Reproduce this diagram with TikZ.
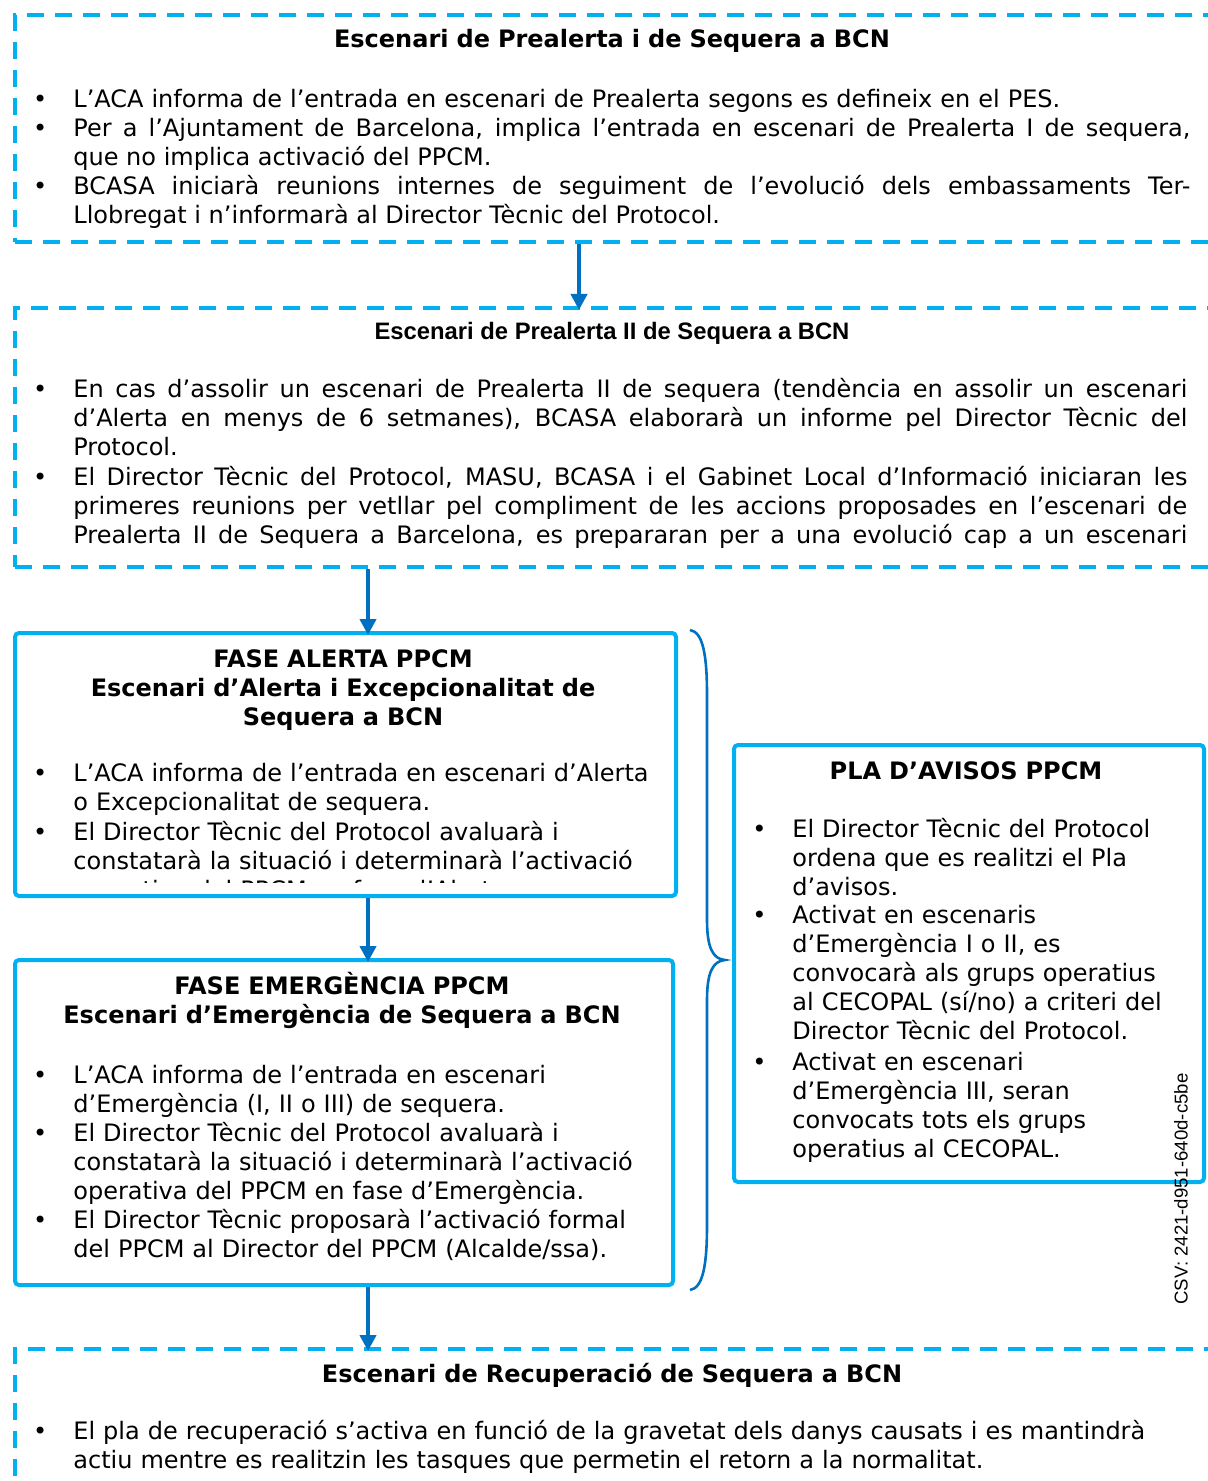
\documentclass[tikz,border=0pt]{standalone}
\usepackage{fontspec}
\setmainfont{DejaVu Sans}
\newfontfamily\arialfont{Liberation Sans}
\usetikzlibrary{arrows.meta}
\definecolor{cyanb}{HTML}{00B0F0}
\definecolor{darkb}{HTML}{0070C0}
\newcommand\bodysize{\fontsize{12}{14.5}\selectfont}
\newcommand\bul{\llap{\textbullet\hspace{13pt}}}
\begin{document}
\begin{tikzpicture}[x=0.5pt,y=-0.5pt,
 dbox/.style={draw=cyanb,line width=2pt,dash pattern=on 8.5pt off 5.5pt,anchor=north west,inner sep=0pt},
 sbox/.style={draw=cyanb,line width=2pt,rounded corners=2pt,anchor=north west,inner sep=0pt},
 txt/.style={anchor=base west,inner sep=0pt,text width=#1,align=left,font=\bodysize},
 jtxt/.style={anchor=base west,inner sep=0pt,text width=#1,align=justify,font=\bodysize},
 ttl/.style={anchor=base,inner sep=0pt,text width=#1,align=center,font=\bodysize\bfseries},
 arr/.style={draw=darkb,line width=2.2pt,-{Triangle[width=8pt,length=8pt]},shorten >=-2pt},
 brace/.style={draw=darkb,line width=1.3pt}
]
\useasboundingbox (0,0) rectangle (1207,1481);

% boxes
\node[dbox,minimum width=608.5pt,minimum height=113.5pt] (b1) at (13,13) {};
\node[dbox,minimum width=608.5pt,minimum height=129.5pt] (b2) at (13,306) {};
\node[sbox,minimum width=330.5pt,minimum height=131.5pt] (alerta) at (13,631) {};
\node[sbox,minimum width=329pt,minimum height=162.5pt] (emerg) at (13,958) {};
\node[sbox,minimum width=235pt,minimum height=218.5pt] (pla) at (732,743) {};
\node[dbox,minimum width=608.5pt,minimum height=100pt] (b3) at (13,1347) {};

% box 1
\node[ttl=560pt] (t1) at (612,48) {Escenari de Prealerta i de Sequera a BCN};
\node[txt=558.5pt] (p11) at (73,108) {\bul L’ACA informa de l’entrada en escenari de Prealerta segons es defineix en el PES.};
\node[jtxt=558.5pt] (p12) at (73,137) {\bul Per a l’Ajuntament de Barcelona, implica l’entrada en escenari de Prealerta I de sequera,\linebreak que no implica activació del PPCM.};
\node[jtxt=558.5pt] (p13) at (73,195) {\bul BCASA iniciarà reunions internes de seguiment de l’evolució dels embassaments Ter-\linebreak Llobregat i n’informarà al Director Tècnic del Protocol.};

% box 2
\node[anchor=base,inner sep=0pt,font=\arialfont\bfseries\fontsize{11.9}{14}\selectfont] (t2) at (612,340) {Escenari de Prealerta II de Sequera a BCN};
\node[jtxt=557pt] (p21) at (73,397) {\bul En cas d’assolir un escenari de Prealerta II de sequera (tendència en assolir un escenari\linebreak d’Alerta en menys de 6 setmanes), BCASA elaborarà un informe pel Director Tècnic del\linebreak Protocol.};
\node[jtxt=557pt] (p22) at (73,485) {\bul El Director Tècnic del Protocol, MASU, BCASA i el Gabinet Local d’Informació iniciaran les\linebreak primeres reunions per vetllar pel compliment de les accions proposades en l’escenari de\linebreak Prealerta II de Sequera a Barcelona, es prepararan per a una evolució cap a un escenari\parfillskip=0pt\par};

% alerta
\node[ttl=320pt] (ta) at (343,667) {FASE ALERTA PPCM\\Escenari d’Alerta i Excepcionalitat de\\Sequera a BCN};
\node[txt=300pt] (pa1) at (73,781) {\bul L’ACA informa de l’entrada en escenari d’Alerta\\o Excepcionalitat de sequera.};
\begin{scope}
\clip (13,631) rectangle (674,882);
\node[txt=300pt] (pa2) at (73,840) {\bul El Director Tècnic del Protocol avaluarà i\\constatarà la situació i determinarà l’activació\\operativa del PPCM en fase d’Alerta.};
\end{scope}

% emergencia
\node[ttl=320pt] (te) at (342,994) {FASE EMERGÈNCIA PPCM\\Escenari d’Emergència de Sequera a BCN};
\node[txt=300pt] (pe1) at (73,1083) {\bul L’ACA informa de l’entrada en escenari\\d’Emergència (I, II o III) de sequera.};
\node[txt=300pt] (pe2) at (73,1141) {\bul El Director Tècnic del Protocol avaluarà i\\constatarà la situació i determinarà l’activació\\operativa del PPCM en fase d’Emergència.};
\node[txt=300pt] (pe3) at (73,1228) {\bul El Director Tècnic proposarà l’activació formal\\del PPCM al Director del PPCM (Alcalde/ssa).};

% pla d'avisos
\node[ttl=230pt] (tp) at (966,779) {PLA D’AVISOS PPCM};
\node[txt=200pt] (pp1) at (792,837) {\bul El Director Tècnic del Protocol\\ordena que es realitzi el Pla\\d’avisos.};
\node[txt=200pt] (pp2) at (792,923) {\bul Activat en escenaris\\d’Emergència I o II, es\\convocarà als grups operatius\\al CECOPAL (sí/no) a criteri del\\Director Tècnic del Protocol.};
\node[txt=200pt] (pp3) at (792,1070) {\bul Activat en escenari\\d’Emergència III, seran\\convocats tots els grups\\operatius al CECOPAL.};

% recuperacio
\node[ttl=560pt] (t3) at (612,1382) {Escenari de Recuperació de Sequera a BCN};
\node[txt=558.5pt] (p31) at (73,1439) {\bul El pla de recuperació s’activa en funció de la gravetat dels danys causats i es mantindrà\\actiu mentre es realitzin les tasques que permetin el retorn a la normalitat.};

% csv
\node[rotate=90,inner sep=0pt,font=\arialfont\fontsize{9.3}{11}\selectfont] (csv) at (1181,1189) {CSV: 2421-d951-640d-c5be};

% arrows
\coordinate (ax1) at (579,0);
\coordinate (ax2) at (368,0);
\draw[arr] (b1.south -| ax1) -- (b2.north -| ax1);
\draw[arr] (b2.south -| ax2) -- (alerta.north -| ax2);
\draw[arr] (alerta.south -| ax2) -- (emerg.north -| ax2);
\draw[arr] (emerg.south -| ax2) -- (b3.north -| ax2);

% brace
\coordinate (br1) at (690,630);
\coordinate (br2) at (725,960);
\coordinate (br3) at (690,1290);
\draw[brace] (br1) .. controls (703,632) and (707,655) .. (707,695) -- (707,920) .. controls (707,948) and (713,959) .. (br2)
 .. controls (713,961) and (707,972) .. (707,1000) -- (707,1225) .. controls (707,1265) and (703,1288) .. (br3);
\end{tikzpicture}
\end{document}
